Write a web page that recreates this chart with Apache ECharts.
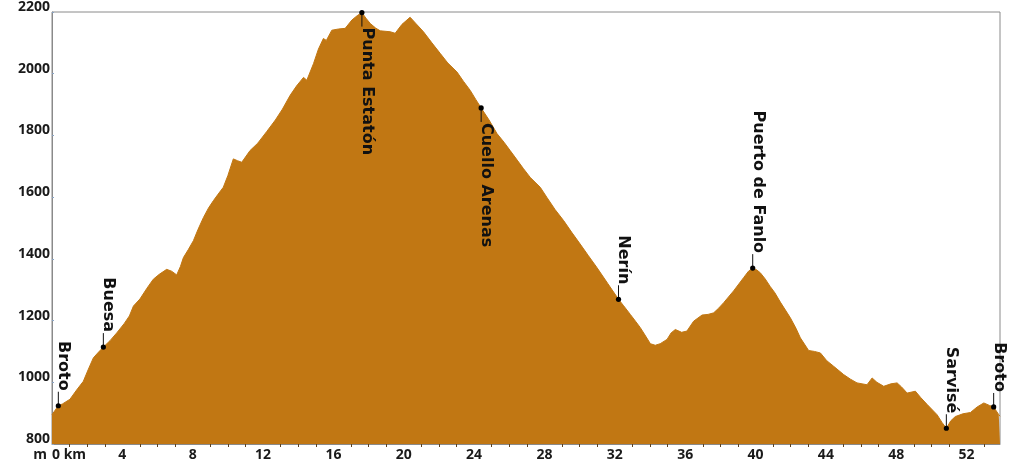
<!DOCTYPE html>
<html>
<head>
<meta charset="utf-8">
<script src="https://cdn.jsdelivr.net/npm/echarts@6/dist/echarts.min.js"></script>
<style>html,body{margin:0;padding:0;background:#fff}#c{width:1024px;height:467px}</style>
</head>
<body>
<div id="c"></div>
<script>
// distance (km) and elevation (m) of the profile
var distKm = [0.00,0.36,0.6,1.02,1.4,1.78,2.05,2.35,2.6,2.92,3.3,3.68,4.1,4.4,4.63,5.0,5.4,5.76,6.1,6.52,6.8,7.09,7.3,7.47,7.75,8.04,8.3,8.61,8.9,9.18,9.45,9.74,10.0,10.31,10.55,10.79,11.26,11.7,12.2,12.7,13.1,13.54,13.9,14.30,14.49,14.87,15.15,15.43,15.6,15.91,16.3,16.67,17.05,17.35,17.62,17.85,18.09,18.4,18.66,19.23,19.51,19.9,20.36,20.7,21.12,21.6,22.07,22.5,23.02,23.4,23.78,24.1,24.40,24.85,25.30,25.7,26.05,26.45,26.81,27.19,27.76,28.14,28.6,29.09,29.55,30.03,30.5,30.98,31.6,32.21,32.5,32.88,33.2,33.45,33.75,34.02,34.3,34.58,34.97,35.2,35.44,35.8,36.10,36.48,36.96,37.3,37.62,37.9,38.19,38.75,39.32,39.6,39.84,40.05,40.27,40.55,40.84,41.1,41.41,41.98,42.3,42.55,43.02,43.35,43.69,44.05,44.44,45.01,45.4,45.77,46.34,46.63,46.9,47.29,47.7,48.05,48.3,48.62,49.09,49.4,49.76,50.32,50.6,50.85,51.1,51.36,51.8,52.22,52.6,52.98,53.3,53.54,53.83,53.9];
var elevM = [895,924,930,945,975,1003,1040,1079,1095,1114,1135,1160,1190,1215,1247,1270,1305,1334,1350,1366,1360,1348,1375,1404,1430,1459,1495,1534,1565,1589,1610,1632,1670,1724,1718,1713,1751,1775,1812,1850,1885,1930,1960,1988,1979,2033,2080,2114,2108,2141,2145,2147,2174,2188,2198,2180,2163,2148,2139,2136,2131,2160,2183,2162,2136,2100,2066,2035,2006,1975,1946,1916,1889,1850,1806,1778,1751,1720,1692,1664,1632,1599,1560,1524,1486,1448,1410,1372,1320,1269,1248,1220,1196,1177,1150,1125,1120,1125,1139,1160,1171,1162,1166,1198,1218,1220,1225,1240,1258,1296,1339,1360,1370,1365,1355,1335,1310,1290,1260,1209,1175,1144,1103,1100,1095,1070,1052,1025,1010,998,992,1014,1000,987,995,998,985,965,971,950,928,895,870,851,875,889,898,902,920,933,925,920,895,890];

// waypoints
var wpNames = ['Broto','Buesa','Punta Estatón','Cuello Arenas','Nerín','Puerto de Fanlo','Sarvisé','Broto'];
var wpKm    = [0.36, 2.92, 17.62, 24.40, 32.21, 39.84, 50.85, 53.54];
var wpElev  = [924, 1114, 2198, 1889, 1269, 1370, 851, 920];
var wpSide  = ['up','up','down','down','up','up','up','up'];

// axes
var yMin = 800, yMax = 2200, yStep = 200;
var xMin = 0, xMax = 53.9, xStep = 4;
var yUnit = 'm';

var profile = distKm.map(function(d,i){return [d, elevM[i]];});
var wps = wpKm.map(function(d,i){return [d, wpElev[i], wpNames[i], wpSide[i]];});

var chart = echarts.init(document.getElementById('c'), null, {renderer:'canvas'});
var axisFont = {fontFamily:'Open Sans', fontWeight:'bold', fontSize:14, color:'#1a1a1a'};
chart.setOption({
  animation:false,
  grid:{left:52, right:24, top:12, bottom:23, containLabel:false, outerBoundsMode:'none',
    show:true, borderColor:'#8a8a8a', borderWidth:1, backgroundColor:'transparent'},
  graphic:[{
    type:'text', right:1024-47, top:448,
    style:{text:yUnit, font:'bold 14px "Open Sans"', fill:'#1a1a1a'}
  }],
  xAxis:{
    type:'value', min:xMin, max:xMax, interval:xStep,
    axisLine:{show:true, lineStyle:{color:'#8a8a8a'}},
    axisTick:{show:false},
    minorTick:{show:true, splitNumber:4, length:3, lineStyle:{color:'#5a4020'}},
    splitLine:{show:false},
    axisLabel:Object.assign({margin:4, showMaxLabel:false, alignMinLabel:'left',
      formatter:function(v){return v===0?'0 km':String(v);}}, axisFont)
  },
  yAxis:{
    type:'value', min:yMin, max:yMax, interval:yStep,
    axisLine:{show:true, lineStyle:{color:'#8a8a8a'}},
    axisTick:{show:true, inside:true, length:2, lineStyle:{color:'#8aa4c4'}},
    splitLine:{show:false},
    axisLabel:Object.assign({margin:2, verticalAlign:'bottom', lineHeight:10,
      formatter:function(v){return String(v);}}, axisFont)
  },
  series:[
    {
      type:'line', data:profile, symbol:'none', smooth:false,
      lineStyle:{color:'#c17713', width:1},
      itemStyle:{color:'#c17713'},
      areaStyle:{color:'#c17713', opacity:1, origin:'start'},
      z:2
    },
    {
      type:'custom', data:wps, z:5,
      renderItem:function(params, api){
        var p = api.coord([api.value(0), api.value(1)]);
        var name = wps[params.dataIndex][2];
        var side = wps[params.dataIndex][3];
        var L = 14;
        var dir = side==='up' ? -1 : 1;
        var endY = p[1] + dir*L;
        return {
          type:'group',
          children:[
            {type:'line', shape:{x1:p[0], y1:p[1], x2:p[0], y2:endY}, style:{stroke:'#111', lineWidth:1}},
            {type:'circle', shape:{cx:p[0], cy:p[1], r:2.6}, style:{fill:'#000'}},
            {type:'text', x:p[0]-3, y:endY + (side==='up' ? -1 : 1), rotation:-Math.PI/2,
              style:{text:name, fill:'#111', font:'bold 16px "DejaVu Sans"',
                align: side==='up' ? 'right' : 'left', verticalAlign:'bottom'}}
          ]
        };
      }
    }
  ]
});
</script>
</body>
</html>
